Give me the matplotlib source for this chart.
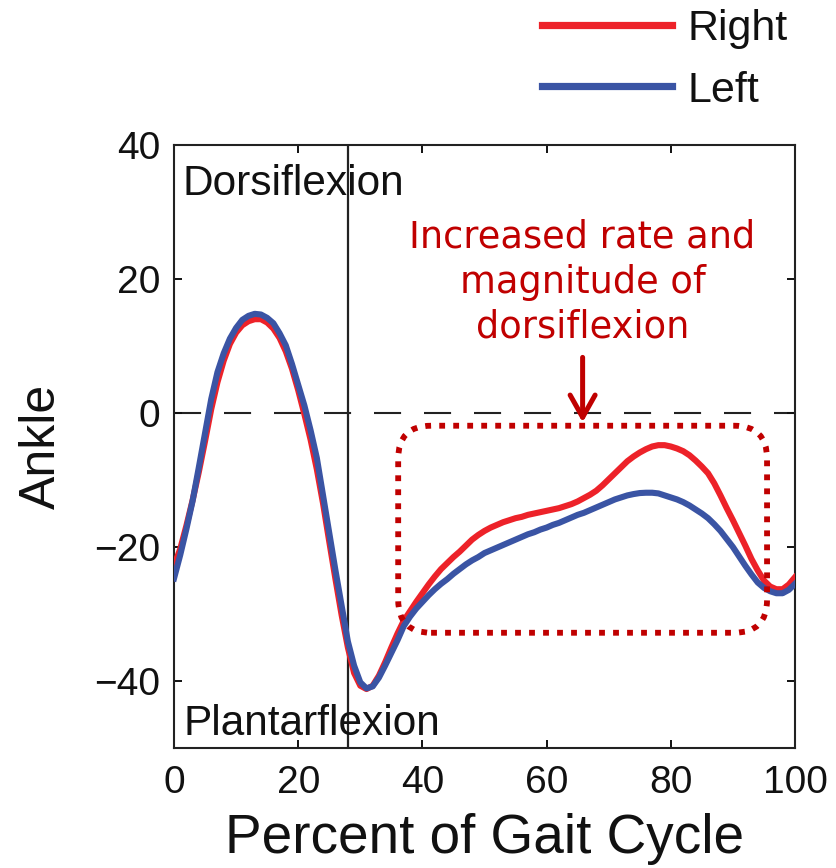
import numpy as np
import matplotlib
matplotlib.use("Agg")
import matplotlib.pyplot as plt
from matplotlib.patches import FancyBboxPatch

# Ankle angle (degrees) over the gait cycle, sampled every 1 %
gait_pct = list(range(0, 101))
right_ankle = [
    -22.8, -20.3, -16.8, -13.0, -8.8, -4.2, 0.6, 4.6, 7.8, 10.3,
    12.0, 13.1, 13.7, 14.0, 14.0, 13.5, 12.6, 11.2, 9.2, 6.6,
    3.4, -0.2, -4.0, -8.4, -13.5, -19.2, -24.8, -30.2, -35.0, -38.8,
    -40.7, -41.2, -40.7, -39.2, -37.2, -35.0, -32.9, -31.0, -29.6, -28.2,
    -26.9, -25.6, -24.4, -23.3, -22.4, -21.5, -20.7, -19.8, -18.9, -18.2,
    -17.6, -17.1, -16.7, -16.3, -16.0, -15.7, -15.5, -15.2, -15.0, -14.8,
    -14.6, -14.4, -14.2, -13.9, -13.6, -13.2, -12.7, -12.2, -11.6, -10.8,
    -9.9, -9.0, -8.1, -7.2, -6.5, -5.9, -5.4, -5.0, -4.8, -4.8,
    -5.0, -5.3, -5.7, -6.3, -7.1, -8.0, -9.0, -10.5, -12.3, -14.2,
    -16.0, -17.9, -19.8, -21.8, -23.5, -25.0, -25.9, -26.3, -26.3, -25.6,
    -24.5]
left_ankle = [
    -24.7, -21.2, -17.3, -13.1, -8.1, -3.0, 2.1, 6.1, 8.9, 11.1,
    12.7, 13.9, 14.5, 14.8, 14.7, 14.2, 13.4, 11.9, 10.1, 7.3,
    4.2, 1.1, -2.6, -6.7, -12.3, -17.9, -23.5, -28.8, -34.1, -37.7,
    -40.2, -41.1, -40.8, -39.5, -37.7, -35.8, -33.9, -31.8, -30.4, -29.2,
    -28.2, -27.2, -26.3, -25.5, -24.8, -24.0, -23.3, -22.6, -22.0, -21.5,
    -20.9, -20.5, -20.1, -19.7, -19.3, -18.9, -18.5, -18.1, -17.8, -17.4,
    -17.1, -16.7, -16.4, -16.0, -15.6, -15.2, -14.9, -14.5, -14.1, -13.7,
    -13.3, -12.9, -12.6, -12.3, -12.1, -11.95, -11.9, -11.9, -12.0, -12.3,
    -12.6, -12.9, -13.3, -13.8, -14.4, -15.0, -15.7, -16.6, -17.6, -18.8,
    -20.0, -21.4, -22.8, -24.1, -25.3, -26.1, -26.6, -26.9, -26.9, -26.4,
    -25.5]

toe_off_pct = 28
x_ticks = [0, 20, 40, 60, 80, 100]
y_ticks = [-40, -20, 0, 20, 40]
x_range = (0, 100)
y_range = (-50, 40)

# region highlighted on the swing-phase curves: x0, x1, y0, y1
highlight = (36.1, 95.5, -32.8, -1.9)
arrow_x = 65.8

RED = "#ED2229"
BLUE = "#3A54A4"
DARK_RED = "#C00000"
SANS = ["Liberation Sans", "DejaVu Sans"]

plt.rcParams["font.family"] = SANS

fig = plt.figure(figsize=(8.36, 8.68), dpi=100)
ax = fig.add_axes([174 / 836, 1 - 748 / 868, (795 - 174) / 836, (748 - 145) / 868])

ax.axhline(0, color="#222222", lw=1.5, linestyle=(0, (13, 11)), zorder=1)
ax.axvline(toe_off_pct, color="#222222", lw=1.6, zorder=1)

ax.plot(gait_pct, right_ankle, color=RED, lw=4.4, solid_joinstyle="round",
        label="Right", zorder=3)
ax.plot(gait_pct, left_ankle, color=BLUE, lw=4.4, solid_joinstyle="round",
        label="Left", zorder=4)

ax.set_xlim(*x_range)
ax.set_ylim(*y_range)
ax.set_xticks(x_ticks)
ax.set_yticks(y_ticks)
ax.set_yticklabels([str(v).replace("-", "\u2212") for v in y_ticks])
ax.tick_params(direction="in", length=6, width=1.4, top=True, right=True,
               labelsize=28, colors="#111111")
ax.tick_params(axis="y", pad=10)
ax.tick_params(axis="x", pad=12)
for s in ax.spines.values():
    s.set_linewidth(1.5)
    s.set_color("#222222")

ax.set_xlabel("Percent of Gait Cycle", fontsize=39.5, color="#111111", labelpad=9)
ax.set_ylabel("Ankle", fontsize=36, color="#111111", labelpad=21)

ax.text(1.3, 32.6, "Dorsiflexion", fontsize=30.5, va="baseline", ha="left",
        color="#111111")
ax.text(1.5, -48.1, "Plantarflexion", fontsize=30.5, va="baseline", ha="left",
        color="#111111")

# dotted rounded box around swing phase
ax_w = (795 - 174)
ax_h = (748 - 145)
aspect = ((y_range[1] - y_range[0]) / ax_h) / ((x_range[1] - x_range[0]) / ax_w)
x0, x1, y0, y1 = highlight
box = FancyBboxPatch((x0, y0), x1 - x0, y1 - y0,
                     boxstyle="round,pad=0,rounding_size=5.3",
                     mutation_aspect=aspect, fill=False, edgecolor=DARK_RED,
                     lw=4.2, linestyle=(0, (1, 1.4)), capstyle="butt", zorder=5)
ax.add_patch(box)

ax.annotate("", xy=(arrow_x, -1.4), xytext=(arrow_x, 8.3),
            arrowprops=dict(arrowstyle="->,head_length=0.8,head_width=0.45",
                            color=DARK_RED, lw=3.6, shrinkA=0, shrinkB=0,
                            mutation_scale=20),
            zorder=6)
ax.text(arrow_x, 11.2, "Increased rate and\nmagnitude of\ndorsiflexion",
        fontsize=26.5, ha="center", va="baseline", color=DARK_RED,
        family=["DejaVu Sans"], linespacing=1.29)

fig.legend(loc="upper left", bbox_to_anchor=(542 / 836, 1 - 9 / 868),
           frameon=False, fontsize=31, handlelength=3.02, handletextpad=0.36,
           labelspacing=0.5, borderpad=0, borderaxespad=0,
           labelcolor="#111111")
for line in fig.legends[0].get_lines():
    line.set_linewidth(5.2)

fig.savefig("out.png", dpi=100)
